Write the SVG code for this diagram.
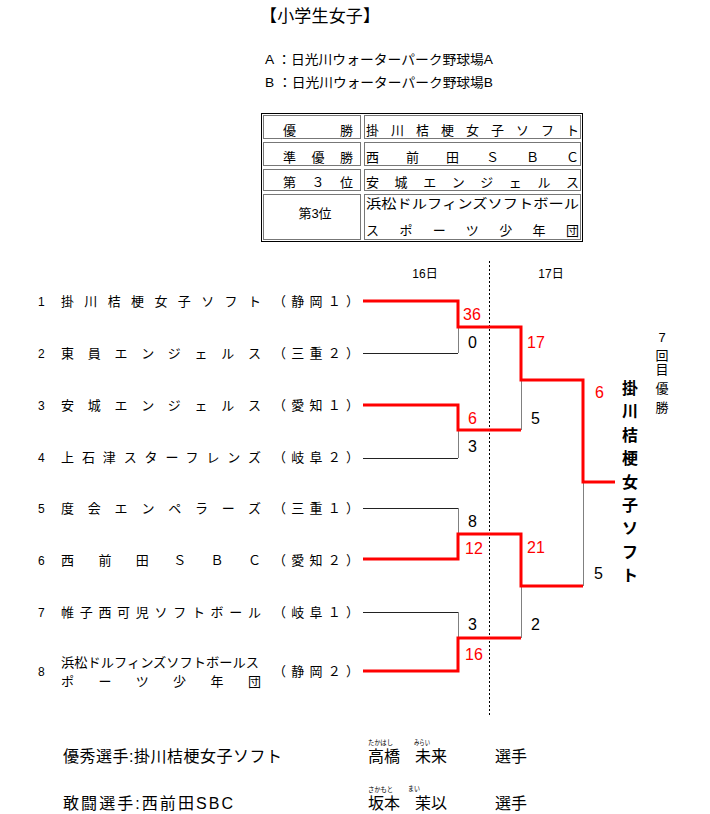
<svg xmlns="http://www.w3.org/2000/svg" width="710" height="814" viewBox="0 0 710 814">
<style>
text{font-family:"Liberation Sans","Noto Sans CJK JP",sans-serif;fill:#000}
.t13{font-size:13px}
.t12{font-size:12px}
.sc{font-size:16px}
.red{fill:#ff0000}
.cell{fill:none;stroke:#777;stroke-width:1}
.win{fill:none;stroke:#ff0000;stroke-width:3;stroke-linejoin:miter}
.lose{fill:none;stroke:#222;stroke-width:1}
.vc{fill:none;stroke:#808080;stroke-width:1}
.champ{font-size:16px;font-weight:bold}
</style>
<rect width="710" height="814" fill="#fff"/>

<g id="header">
<text x="260" y="22" style="font-size:17px" textLength="120" lengthAdjust="spacing">【小学生女子】</text>
<text x="265" y="64" class="t13" textLength="228" lengthAdjust="spacingAndGlyphs">A ：日光川ウォーターパーク野球場A</text>
<text x="265" y="87" class="t13" textLength="228" lengthAdjust="spacingAndGlyphs">B ：日光川ウォーターパーク野球場B</text>
</g>

<g id="results-table">
<rect x="261.5" y="113.5" width="321" height="128" fill="none" stroke="#000"/>
<rect x="263.5" y="115.5" width="97" height="23" class="cell"/>
<rect x="364.5" y="115.5" width="216" height="23" class="cell"/>
<rect x="263.5" y="142.5" width="97" height="23" class="cell"/>
<rect x="364.5" y="142.5" width="216" height="23" class="cell"/>
<rect x="263.5" y="169.5" width="97" height="21" class="cell"/>
<rect x="364.5" y="169.5" width="216" height="21" class="cell"/>
<rect x="263.5" y="194.5" width="97" height="45" class="cell"/>
<rect x="364.5" y="194.5" width="216" height="45" class="cell"/>
<text x="283" y="135" class="t13" textLength="70" lengthAdjust="spacing">優勝</text>
<text x="366" y="135" class="t13" textLength="213" lengthAdjust="spacing">掛川桔梗女子ソフト</text>
<text x="283" y="162" class="t13" textLength="70" lengthAdjust="spacing">準優勝</text>
<text x="366" y="162" class="t13" textLength="213" lengthAdjust="spacing">西前田ＳＢＣ</text>
<text x="283" y="187" class="t13" textLength="70" lengthAdjust="spacing">第３位</text>
<text x="366" y="187" class="t13" textLength="213" lengthAdjust="spacing">安城エンジェルス</text>
<text x="315" y="218" class="t13" text-anchor="middle">第3位</text>
<text x="366" y="208" class="t13" textLength="213" lengthAdjust="spacingAndGlyphs">浜松ドルフィンズソフトボール</text>
<text x="366" y="235" class="t13" textLength="213" lengthAdjust="spacing">スポーツ少年団</text>
</g>

<g id="days">
<text x="425" y="278" class="t12" text-anchor="middle">16日</text>
<text x="551" y="278" class="t12" text-anchor="middle">17日</text>
</g>

<g id="team-1"><text x="38" y="306" class="t12">1</text><text x="61" y="306" class="t13" textLength="200" lengthAdjust="spacing">掛川桔梗女子ソフト</text><text x="273" y="306" class="t13" textLength="86" lengthAdjust="spacing">（静岡１）</text></g>
<g id="team-2"><text x="38" y="358" class="t12">2</text><text x="61" y="358" class="t13" textLength="200" lengthAdjust="spacing">東員エンジェルス</text><text x="273" y="358" class="t13" textLength="86" lengthAdjust="spacing">（三重２）</text></g>
<g id="team-3"><text x="38" y="410" class="t12">3</text><text x="61" y="410" class="t13" textLength="200" lengthAdjust="spacing">安城エンジェルス</text><text x="273" y="410" class="t13" textLength="86" lengthAdjust="spacing">（愛知１）</text></g>
<g id="team-4"><text x="38" y="462" class="t12">4</text><text x="61" y="462" class="t13" textLength="200" lengthAdjust="spacing">上石津スターフレンズ</text><text x="273" y="462" class="t13" textLength="86" lengthAdjust="spacing">（岐阜２）</text></g>
<g id="team-5"><text x="38" y="513" class="t12">5</text><text x="61" y="513" class="t13" textLength="200" lengthAdjust="spacing">度会エンペラーズ</text><text x="273" y="513" class="t13" textLength="86" lengthAdjust="spacing">（三重１）</text></g>
<g id="team-6"><text x="38" y="565" class="t12">6</text><text x="61" y="565" class="t13" textLength="200" lengthAdjust="spacing">西前田ＳＢＣ</text><text x="273" y="565" class="t13" textLength="86" lengthAdjust="spacing">（愛知２）</text></g>
<g id="team-7"><text x="38" y="617" class="t12">7</text><text x="61" y="617" class="t13" textLength="200" lengthAdjust="spacing">帷子西可児ソフトボール</text><text x="273" y="617" class="t13" textLength="86" lengthAdjust="spacing">（岐阜１）</text></g>
<g id="team-8"><text x="38" y="676" class="t12">8</text><text x="61" y="667" class="t13" textLength="198" lengthAdjust="spacingAndGlyphs">浜松ドルフィンズソフトボールス</text><text x="61" y="686" class="t13" textLength="200" lengthAdjust="spacing">ポーツ少年団</text><text x="273" y="676" class="t13" textLength="86" lengthAdjust="spacing">（静岡２）</text></g>

<g id="connectors">
<line x1="489.5" y1="261" x2="489.5" y2="717" stroke="#000" stroke-width="1" stroke-dasharray="2,2"/>
<path class="lose" d="M363,353.5 H458"/>
<path class="lose" d="M363,458.5 H458"/>
<path class="lose" d="M363,508.5 H458"/>
<path class="lose" d="M363,612.5 H458"/>
<path class="vc" d="M458.5,353 V327"/>
<path class="vc" d="M458.5,458 V430"/>
<path class="vc" d="M458.5,508 V534"/>
<path class="vc" d="M458.5,612 V638"/>
<path class="vc" d="M521.5,430 V379"/>
<path class="vc" d="M521.5,638 V586"/>
<path class="vc" d="M583.5,586 V482"/>
<path class="win" d="M363,301 H458 V327 H521 V380 H583 V482 H615"/>
<path class="win" d="M363,405 H458 V430 H521"/>
<path class="win" d="M363,559 H458 V534 H521 V586 H583"/>
<path class="win" d="M363,671 H458 V638 H521"/>
</g>

<g id="scores">
<text x="463" y="320" class="sc red">36</text>
<text x="468" y="348" class="sc">0</text>
<text x="527" y="348" class="sc red">17</text>
<text x="468" y="424" class="sc red">6</text>
<text x="531" y="424" class="sc">5</text>
<text x="468" y="452" class="sc">3</text>
<text x="468" y="527" class="sc">8</text>
<text x="465" y="554" class="sc red">12</text>
<text x="527" y="553" class="sc red">21</text>
<text x="468" y="630" class="sc">3</text>
<text x="531" y="630" class="sc">2</text>
<text x="465" y="660" class="sc red">16</text>
<text x="595" y="398" class="sc red">6</text>
<text x="594" y="579" class="sc">5</text>
</g>

<g id="champion">
<text x="630" y="394" class="champ" text-anchor="middle">掛</text>
<text x="630" y="417" class="champ" text-anchor="middle">川</text>
<text x="630" y="441" class="champ" text-anchor="middle">桔</text>
<text x="630" y="464" class="champ" text-anchor="middle">梗</text>
<text x="630" y="488" class="champ" text-anchor="middle">女</text>
<text x="630" y="511" class="champ" text-anchor="middle">子</text>
<text x="630" y="534" class="champ" text-anchor="middle">ソ</text>
<text x="630" y="558" class="champ" text-anchor="middle">フ</text>
<text x="630" y="581" class="champ" text-anchor="middle">ト</text>
</g>

<g id="seventh-title">
<text x="662" y="342" class="t13" text-anchor="middle">7</text>
<text x="662" y="360" class="t13" text-anchor="middle">回</text>
<text x="662" y="374" class="t13" text-anchor="middle">目</text>
<text x="662" y="393" class="t13" text-anchor="middle">優</text>
<text x="662" y="412" class="t13" text-anchor="middle">勝</text>
</g>

<g id="awards">
<text x="63" y="762" style="font-size:16px" textLength="219" lengthAdjust="spacing">優秀選手:掛川桔梗女子ソフト</text>
<text x="63" y="809" style="font-size:16px" textLength="170" lengthAdjust="spacing">敢闘選手:西前田SBC</text>
<text x="368" y="745" style="font-size:7px" textLength="25" lengthAdjust="spacingAndGlyphs">たかはし</text>
<text x="414" y="745" style="font-size:7px" textLength="16" lengthAdjust="spacingAndGlyphs">みらい</text>
<text x="368" y="762" style="font-size:16px">高橋</text>
<text x="415" y="762" style="font-size:16px">未来</text>
<text x="495" y="762" style="font-size:16px">選手</text>
<text x="368" y="792" style="font-size:7px" textLength="25" lengthAdjust="spacingAndGlyphs">さかもと</text>
<text x="408" y="791" style="font-size:7px" textLength="12" lengthAdjust="spacingAndGlyphs">まい</text>
<text x="368" y="809" style="font-size:16px">坂本</text>
<text x="415" y="809" style="font-size:16px">茉以</text>
<text x="495" y="809" style="font-size:16px">選手</text>
</g>
</svg>
